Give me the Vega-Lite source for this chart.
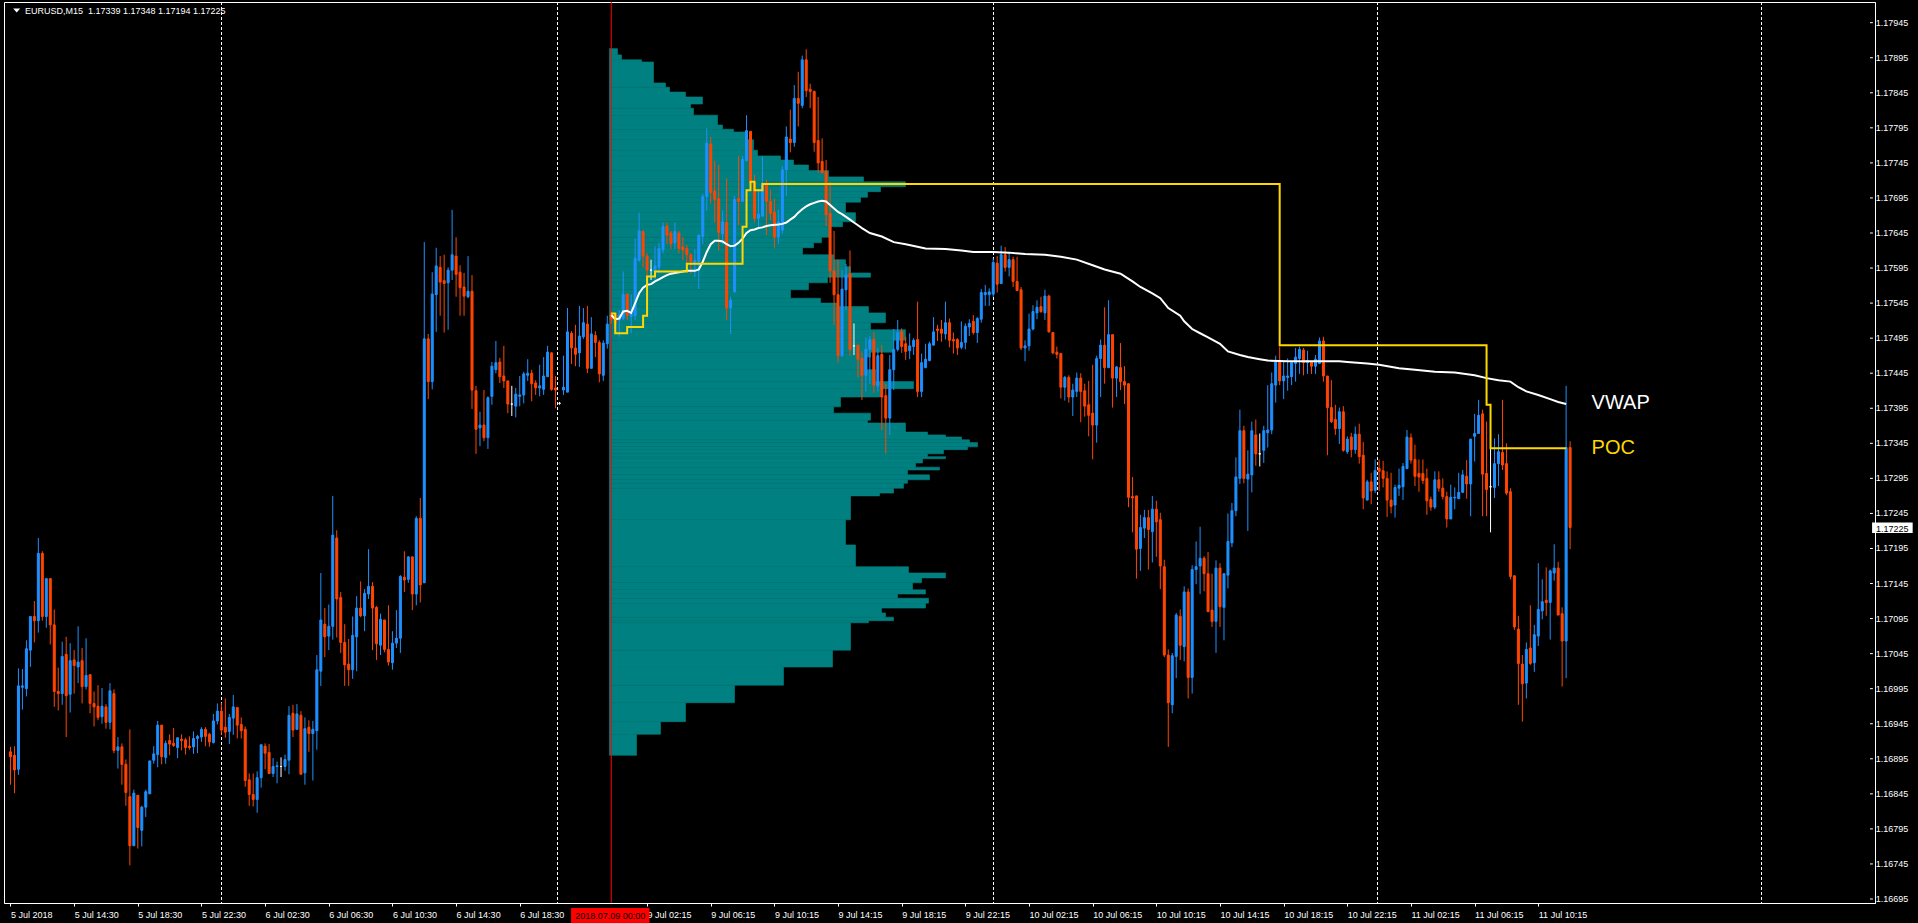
{
"$schema":"https://vega.github.io/schema/vega-lite/v6.json",
"width":1871,"height":901,
"autosize":{"type":"none"},
"padding":{"left":4,"top":2,"right":43,"bottom":20},
"background":"#000000",
"config":{"view":{"stroke":"#FFFFFF","strokeWidth":1},"font":"Liberation Sans",
 "axis":{"domainColor":"#FFFFFF","tickColor":"#FFFFFF","labelColor":"#FFFFFF","labelFont":"Liberation Sans","labelFontSize":9,"grid":false,"labelOverlap":false,"labelFlush":false,"labelBound":false,"tickSize":3}},
"datasets":{
"bars":[
{"k":0,"o":1.16905,"h":1.16912,"l":1.16858,"c":1.16898},
{"k":1,"o":1.16900,"h":1.16913,"l":1.16846,"c":1.16879},
{"k":2,"o":1.16880,"h":1.17024,"l":1.16872,"c":1.16999},
{"k":3,"o":1.16997,"h":1.17023,"l":1.16965,"c":1.16999},
{"k":4,"o":1.16995,"h":1.17064,"l":1.16984,"c":1.17052},
{"k":5,"o":1.17050,"h":1.17098,"l":1.17026,"c":1.17098},
{"k":6,"o":1.17098,"h":1.17120,"l":1.17061,"c":1.17092},
{"k":7,"o":1.17092,"h":1.17210,"l":1.17075,"c":1.17188},
{"k":8,"o":1.17188,"h":1.17191,"l":1.17092,"c":1.17098},
{"k":9,"o":1.17098,"h":1.17152,"l":1.17082,"c":1.17152},
{"k":10,"o":1.17152,"h":1.17152,"l":1.17058,"c":1.17086},
{"k":11,"o":1.17086,"h":1.17108,"l":1.16969,"c":1.16991},
{"k":12,"o":1.16991,"h":1.17025,"l":1.16964,"c":1.16988},
{"k":13,"o":1.16988,"h":1.17062,"l":1.16972,"c":1.17041},
{"k":14,"o":1.17044,"h":1.17069,"l":1.16926,"c":1.16985},
{"k":15,"o":1.16987,"h":1.17060,"l":1.16961,"c":1.17035},
{"k":16,"o":1.17036,"h":1.17050,"l":1.16988,"c":1.17028},
{"k":17,"o":1.17026,"h":1.17084,"l":1.17003,"c":1.17033},
{"k":18,"o":1.17035,"h":1.17053,"l":1.16974,"c":1.16998},
{"k":19,"o":1.16998,"h":1.17067,"l":1.16994,"c":1.17014},
{"k":20,"o":1.17015,"h":1.17015,"l":1.16960,"c":1.16974},
{"k":21,"o":1.16974,"h":1.16991,"l":1.16941,"c":1.16969},
{"k":22,"o":1.16970,"h":1.17000,"l":1.16950,"c":1.16954},
{"k":23,"o":1.16955,"h":1.16996,"l":1.16945,"c":1.16970},
{"k":24,"o":1.16969,"h":1.16973,"l":1.16938,"c":1.16947},
{"k":25,"o":1.16947,"h":1.17003,"l":1.16937,"c":1.16992},
{"k":26,"o":1.16988,"h":1.16994,"l":1.16903,"c":1.16907},
{"k":27,"o":1.16907,"h":1.16926,"l":1.16881,"c":1.16912},
{"k":28,"o":1.16912,"h":1.16917,"l":1.16858,"c":1.16887},
{"k":29,"o":1.16887,"h":1.16894,"l":1.16828,"c":1.16847},
{"k":30,"o":1.16841,"h":1.16937,"l":1.16743,"c":1.16771},
{"k":31,"o":1.16771,"h":1.16851,"l":1.16771,"c":1.16846},
{"k":32,"o":1.16843,"h":1.16843,"l":1.16767,"c":1.16797},
{"k":33,"o":1.16793,"h":1.16828,"l":1.16770,"c":1.16826},
{"k":34,"o":1.16826,"h":1.16851,"l":1.16812,"c":1.16848},
{"k":35,"o":1.16845,"h":1.16892,"l":1.16845,"c":1.16892},
{"k":36,"o":1.16893,"h":1.16913,"l":1.16888,"c":1.16902},
{"k":37,"o":1.16901,"h":1.16949,"l":1.16883,"c":1.16943},
{"k":38,"o":1.16943,"h":1.16943,"l":1.16887,"c":1.16898},
{"k":39,"o":1.16897,"h":1.16921,"l":1.16888,"c":1.16917},
{"k":40,"o":1.16921,"h":1.16930,"l":1.16900,"c":1.16916},
{"k":41,"o":1.16917,"h":1.16939,"l":1.16912,"c":1.16914},
{"k":42,"o":1.16911,"h":1.16925,"l":1.16896,"c":1.16925},
{"k":43,"o":1.16923,"h":1.16930,"l":1.16907,"c":1.16921},
{"k":44,"o":1.16922,"h":1.16925,"l":1.16901,"c":1.16911},
{"k":45,"o":1.16913,"h":1.16927,"l":1.16908,"c":1.16911},
{"k":46,"o":1.16912,"h":1.16934,"l":1.16902,"c":1.16924},
{"k":47,"o":1.16924,"h":1.16929,"l":1.16903,"c":1.16927},
{"k":48,"o":1.16926,"h":1.16940,"l":1.16919,"c":1.16937},
{"k":49,"o":1.16937,"h":1.16940,"l":1.16913,"c":1.16927},
{"k":50,"o":1.16930,"h":1.16932,"l":1.16912,"c":1.16919},
{"k":51,"o":1.16918,"h":1.16959,"l":1.16917,"c":1.16949},
{"k":52,"o":1.16949,"h":1.16974,"l":1.16944,"c":1.16963},
{"k":53,"o":1.16963,"h":1.16975,"l":1.16929,"c":1.16936},
{"k":54,"o":1.16940,"h":1.16981,"l":1.16925,"c":1.16933},
{"k":55,"o":1.16934,"h":1.16959,"l":1.16916,"c":1.16954},
{"k":56,"o":1.16953,"h":1.16986,"l":1.16929,"c":1.16969},
{"k":57,"o":1.16968,"h":1.16969,"l":1.16924,"c":1.16943},
{"k":58,"o":1.16944,"h":1.16954,"l":1.16924,"c":1.16935},
{"k":59,"o":1.16937,"h":1.16941,"l":1.16855,"c":1.16864},
{"k":60,"o":1.16865,"h":1.16874,"l":1.16828,"c":1.16844},
{"k":61,"o":1.16844,"h":1.16874,"l":1.16827,"c":1.16837},
{"k":62,"o":1.16837,"h":1.16877,"l":1.16818,"c":1.16868},
{"k":63,"o":1.16868,"h":1.16915,"l":1.16854,"c":1.16915},
{"k":64,"o":1.16913,"h":1.16917,"l":1.16880,"c":1.16903},
{"k":65,"o":1.16904,"h":1.16916,"l":1.16873,"c":1.16874},
{"k":66,"o":1.16874,"h":1.16896,"l":1.16869,"c":1.16884},
{"k":67,"o":1.16884,"h":1.16891,"l":1.16860,"c":1.16885},
{"k":68,"o":1.16884,"h":1.16897,"l":1.16869,"c":1.16884},
{"k":69,"o":1.16884,"h":1.16901,"l":1.16878,"c":1.16894},
{"k":70,"o":1.16893,"h":1.16970,"l":1.16873,"c":1.16957},
{"k":71,"o":1.16960,"h":1.16972,"l":1.16926,"c":1.16936},
{"k":72,"o":1.16937,"h":1.16973,"l":1.16936,"c":1.16959},
{"k":73,"o":1.16957,"h":1.16963,"l":1.16873,"c":1.16873},
{"k":74,"o":1.16875,"h":1.16954,"l":1.16858,"c":1.16938},
{"k":75,"o":1.16940,"h":1.16950,"l":1.16905,"c":1.16931},
{"k":76,"o":1.16931,"h":1.16949,"l":1.16864,"c":1.16937},
{"k":77,"o":1.16935,"h":1.17043,"l":1.16908,"c":1.17022},
{"k":78,"o":1.17020,"h":1.17160,"l":1.16999,"c":1.17093},
{"k":79,"o":1.17087,"h":1.17110,"l":1.17040,"c":1.17069},
{"k":80,"o":1.17070,"h":1.17115,"l":1.17050,"c":1.17084},
{"k":81,"o":1.17084,"h":1.17270,"l":1.17065,"c":1.17214},
{"k":82,"o":1.17210,"h":1.17221,"l":1.17068,"c":1.17123},
{"k":83,"o":1.17125,"h":1.17133,"l":1.17046,"c":1.17061},
{"k":84,"o":1.17061,"h":1.17087,"l":1.16999,"c":1.17029},
{"k":85,"o":1.17030,"h":1.17066,"l":1.16999,"c":1.17022},
{"k":86,"o":1.17022,"h":1.17098,"l":1.17009,"c":1.17071},
{"k":87,"o":1.17069,"h":1.17127,"l":1.17020,"c":1.17110},
{"k":88,"o":1.17110,"h":1.17148,"l":1.17097,"c":1.17099},
{"k":89,"o":1.17099,"h":1.17137,"l":1.17077,"c":1.17131},
{"k":90,"o":1.17130,"h":1.17194,"l":1.17123,"c":1.17141},
{"k":91,"o":1.17141,"h":1.17147,"l":1.17050,"c":1.17110},
{"k":92,"o":1.17111,"h":1.17113,"l":1.17036,"c":1.17059},
{"k":93,"o":1.17057,"h":1.17102,"l":1.17043,"c":1.17094},
{"k":94,"o":1.17093,"h":1.17093,"l":1.17047,"c":1.17051},
{"k":95,"o":1.17051,"h":1.17114,"l":1.17028,"c":1.17033},
{"k":96,"o":1.17032,"h":1.17077,"l":1.17022,"c":1.17060},
{"k":97,"o":1.17060,"h":1.17107,"l":1.17053,"c":1.17067},
{"k":98,"o":1.17067,"h":1.17157,"l":1.17046,"c":1.17155},
{"k":99,"o":1.17154,"h":1.17191,"l":1.17133,"c":1.17150},
{"k":100,"o":1.17151,"h":1.17184,"l":1.17146,"c":1.17183},
{"k":101,"o":1.17183,"h":1.17183,"l":1.17107,"c":1.17130},
{"k":102,"o":1.17130,"h":1.17241,"l":1.17114,"c":1.17238},
{"k":103,"o":1.17238,"h":1.17267,"l":1.17118,"c":1.17143},
{"k":104,"o":1.17146,"h":1.17632,"l":1.17146,"c":1.17494},
{"k":105,"o":1.17494,"h":1.17501,"l":1.17408,"c":1.17433},
{"k":106,"o":1.17433,"h":1.17589,"l":1.17422,"c":1.17558},
{"k":107,"o":1.17557,"h":1.17624,"l":1.17504,"c":1.17598},
{"k":108,"o":1.17596,"h":1.17612,"l":1.17527,"c":1.17575},
{"k":109,"o":1.17577,"h":1.17614,"l":1.17503,"c":1.17573},
{"k":110,"o":1.17574,"h":1.17596,"l":1.17507,"c":1.17592},
{"k":111,"o":1.17592,"h":1.17678,"l":1.17578,"c":1.17614},
{"k":112,"o":1.17612,"h":1.17639,"l":1.17554,"c":1.17586},
{"k":113,"o":1.17589,"h":1.17599,"l":1.17527,"c":1.17567},
{"k":114,"o":1.17568,"h":1.17588,"l":1.17527,"c":1.17555},
{"k":115,"o":1.17554,"h":1.17612,"l":1.17552,"c":1.17562},
{"k":116,"o":1.17562,"h":1.17585,"l":1.17394,"c":1.17421},
{"k":117,"o":1.17420,"h":1.17427,"l":1.17330,"c":1.17365},
{"k":118,"o":1.17367,"h":1.17390,"l":1.17341,"c":1.17371},
{"k":119,"o":1.17371,"h":1.17421,"l":1.17348,"c":1.17353},
{"k":120,"o":1.17353,"h":1.17412,"l":1.17337,"c":1.17410},
{"k":121,"o":1.17412,"h":1.17461,"l":1.17400,"c":1.17455},
{"k":122,"o":1.17450,"h":1.17491,"l":1.17445,"c":1.17460},
{"k":123,"o":1.17461,"h":1.17467,"l":1.17431,"c":1.17440},
{"k":124,"o":1.17441,"h":1.17484,"l":1.17424,"c":1.17434},
{"k":125,"o":1.17434,"h":1.17434,"l":1.17388,"c":1.17401},
{"k":126,"o":1.17401,"h":1.17427,"l":1.17384,"c":1.17401},
{"k":127,"o":1.17398,"h":1.17424,"l":1.17382,"c":1.17415},
{"k":128,"o":1.17412,"h":1.17441,"l":1.17398,"c":1.17414},
{"k":129,"o":1.17414,"h":1.17447,"l":1.17402,"c":1.17444},
{"k":130,"o":1.17442,"h":1.17465,"l":1.17434,"c":1.17445},
{"k":131,"o":1.17445,"h":1.17450,"l":1.17405,"c":1.17430},
{"k":132,"o":1.17431,"h":1.17435,"l":1.17414,"c":1.17424},
{"k":133,"o":1.17424,"h":1.17457,"l":1.17412,"c":1.17427},
{"k":134,"o":1.17422,"h":1.17468,"l":1.17414,"c":1.17441},
{"k":135,"o":1.17440,"h":1.17484,"l":1.17440,"c":1.17475},
{"k":136,"o":1.17474,"h":1.17475,"l":1.17420,"c":1.17422},
{"k":137,"o":1.17424,"h":1.17441,"l":1.17395,"c":1.17421},
{"k":138,"o":1.17402,"h":1.17404,"l":1.17400,"c":1.17402},
{"k":139,"o":1.17421,"h":1.17470,"l":1.17414,"c":1.17425},
{"k":140,"o":1.17418,"h":1.17538,"l":1.17418,"c":1.17504},
{"k":141,"o":1.17502,"h":1.17505,"l":1.17458,"c":1.17481},
{"k":142,"o":1.17481,"h":1.17514,"l":1.17455,"c":1.17472},
{"k":143,"o":1.17474,"h":1.17541,"l":1.17454,"c":1.17498},
{"k":144,"o":1.17497,"h":1.17538,"l":1.17494,"c":1.17517},
{"k":145,"o":1.17515,"h":1.17541,"l":1.17445,"c":1.17452},
{"k":146,"o":1.17452,"h":1.17525,"l":1.17452,"c":1.17501},
{"k":147,"o":1.17499,"h":1.17505,"l":1.17468,"c":1.17489},
{"k":148,"o":1.17489,"h":1.17492,"l":1.17432,"c":1.17444},
{"k":149,"o":1.17442,"h":1.17492,"l":1.17434,"c":1.17488},
{"k":150,"o":1.17487,"h":1.17527,"l":1.17480,"c":1.17515},
{"k":151,"o":1.17530,"h":1.17533,"l":1.17516,"c":1.17522},
{"k":152,"o":1.17530,"h":1.17531,"l":1.17512,"c":1.17516},
{"k":153,"o":1.17521,"h":1.17535,"l":1.17497,"c":1.17528},
{"k":154,"o":1.17523,"h":1.17590,"l":1.17521,"c":1.17557},
{"k":155,"o":1.17558,"h":1.17558,"l":1.17521,"c":1.17527},
{"k":156,"o":1.17526,"h":1.17557,"l":1.17502,"c":1.17531},
{"k":157,"o":1.17527,"h":1.17637,"l":1.17521,"c":1.17609},
{"k":158,"o":1.17606,"h":1.17674,"l":1.17604,"c":1.17648},
{"k":159,"o":1.17647,"h":1.17649,"l":1.17596,"c":1.17612},
{"k":160,"o":1.17612,"h":1.17616,"l":1.17583,"c":1.17592},
{"k":161,"o":1.17592,"h":1.17607,"l":1.17578,"c":1.17592},
{"k":162,"o":1.17590,"h":1.17626,"l":1.17578,"c":1.17598},
{"k":163,"o":1.17596,"h":1.17631,"l":1.17587,"c":1.17623},
{"k":164,"o":1.17621,"h":1.17660,"l":1.17616,"c":1.17654},
{"k":165,"o":1.17655,"h":1.17660,"l":1.17629,"c":1.17642},
{"k":166,"o":1.17645,"h":1.17648,"l":1.17622,"c":1.17630},
{"k":167,"o":1.17631,"h":1.17660,"l":1.17622,"c":1.17647},
{"k":168,"o":1.17645,"h":1.17648,"l":1.17616,"c":1.17623},
{"k":169,"o":1.17625,"h":1.17639,"l":1.17606,"c":1.17621},
{"k":170,"o":1.17623,"h":1.17628,"l":1.17595,"c":1.17614},
{"k":171,"o":1.17614,"h":1.17616,"l":1.17587,"c":1.17604},
{"k":172,"o":1.17602,"h":1.17622,"l":1.17582,"c":1.17606},
{"k":173,"o":1.17604,"h":1.17642,"l":1.17565,"c":1.17642},
{"k":174,"o":1.17640,"h":1.17701,"l":1.17629,"c":1.17697},
{"k":175,"o":1.17697,"h":1.17794,"l":1.17677,"c":1.17773},
{"k":176,"o":1.17772,"h":1.17782,"l":1.17687,"c":1.17703},
{"k":177,"o":1.17705,"h":1.17748,"l":1.17660,"c":1.17693},
{"k":178,"o":1.17694,"h":1.17742,"l":1.17620,"c":1.17646},
{"k":179,"o":1.17644,"h":1.17677,"l":1.17629,"c":1.17661},
{"k":180,"o":1.17660,"h":1.17723,"l":1.17521,"c":1.17538},
{"k":181,"o":1.17538,"h":1.17554,"l":1.17501,"c":1.17549},
{"k":182,"o":1.17561,"h":1.17698,"l":1.17560,"c":1.17693},
{"k":183,"o":1.17694,"h":1.17755,"l":1.17656,"c":1.17690},
{"k":184,"o":1.17690,"h":1.17755,"l":1.17690,"c":1.17750},
{"k":185,"o":1.17748,"h":1.17813,"l":1.17748,"c":1.17791},
{"k":186,"o":1.17790,"h":1.17790,"l":1.17707,"c":1.17717},
{"k":187,"o":1.17717,"h":1.17728,"l":1.17660,"c":1.17666},
{"k":188,"o":1.17666,"h":1.17707,"l":1.17654,"c":1.17672},
{"k":189,"o":1.17669,"h":1.17754,"l":1.17669,"c":1.17714},
{"k":190,"o":1.17715,"h":1.17721,"l":1.17642,"c":1.17690},
{"k":191,"o":1.17690,"h":1.17707,"l":1.17663,"c":1.17673},
{"k":192,"o":1.17675,"h":1.17694,"l":1.17623,"c":1.17639},
{"k":193,"o":1.17639,"h":1.17678,"l":1.17630,"c":1.17661},
{"k":194,"o":1.17649,"h":1.17740,"l":1.17644,"c":1.17735},
{"k":195,"o":1.17735,"h":1.17797,"l":1.17698,"c":1.17782},
{"k":196,"o":1.17779,"h":1.17821,"l":1.17760,"c":1.17774},
{"k":197,"o":1.17774,"h":1.17856,"l":1.17768,"c":1.17837},
{"k":198,"o":1.17837,"h":1.17875,"l":1.17797,"c":1.17830},
{"k":199,"o":1.17827,"h":1.17898,"l":1.17823,"c":1.17892},
{"k":200,"o":1.17892,"h":1.17907,"l":1.17839,"c":1.17848},
{"k":201,"o":1.17850,"h":1.17858,"l":1.17823,"c":1.17847},
{"k":202,"o":1.17847,"h":1.17848,"l":1.17761,"c":1.17774},
{"k":203,"o":1.17777,"h":1.17839,"l":1.17731,"c":1.17745},
{"k":204,"o":1.17747,"h":1.17780,"l":1.17730,"c":1.17731},
{"k":205,"o":1.17733,"h":1.17749,"l":1.17655,"c":1.17671},
{"k":206,"o":1.17673,"h":1.17718,"l":1.17574,"c":1.17591},
{"k":207,"o":1.17591,"h":1.17648,"l":1.17514,"c":1.17557},
{"k":208,"o":1.17557,"h":1.17607,"l":1.17460,"c":1.17470},
{"k":209,"o":1.17470,"h":1.17592,"l":1.17468,"c":1.17565},
{"k":210,"o":1.17564,"h":1.17601,"l":1.17535,"c":1.17585},
{"k":211,"o":1.17587,"h":1.17620,"l":1.17470,"c":1.17479},
{"k":212,"o":1.17484,"h":1.17516,"l":1.17471,"c":1.17484},
{"k":213,"o":1.17485,"h":1.17485,"l":1.17439,"c":1.17465},
{"k":214,"o":1.17466,"h":1.17476,"l":1.17407,"c":1.17442},
{"k":215,"o":1.17442,"h":1.17496,"l":1.17419,"c":1.17479},
{"k":216,"o":1.17479,"h":1.17498,"l":1.17430,"c":1.17493},
{"k":217,"o":1.17493,"h":1.17504,"l":1.17417,"c":1.17428},
{"k":218,"o":1.17427,"h":1.17481,"l":1.17419,"c":1.17470},
{"k":219,"o":1.17472,"h":1.17485,"l":1.17364,"c":1.17411},
{"k":220,"o":1.17413,"h":1.17430,"l":1.17330,"c":1.17381},
{"k":221,"o":1.17381,"h":1.17471,"l":1.17357,"c":1.17450},
{"k":222,"o":1.17450,"h":1.17508,"l":1.17421,"c":1.17479},
{"k":223,"o":1.17479,"h":1.17521,"l":1.17476,"c":1.17503},
{"k":224,"o":1.17504,"h":1.17509,"l":1.17474,"c":1.17483},
{"k":225,"o":1.17487,"h":1.17497,"l":1.17464,"c":1.17476},
{"k":226,"o":1.17477,"h":1.17502,"l":1.17465,"c":1.17484},
{"k":227,"o":1.17483,"h":1.17495,"l":1.17471,"c":1.17492},
{"k":228,"o":1.17493,"h":1.17547,"l":1.17411,"c":1.17419},
{"k":229,"o":1.17419,"h":1.17473,"l":1.17411,"c":1.17460},
{"k":230,"o":1.17453,"h":1.17487,"l":1.17452,"c":1.17465},
{"k":231,"o":1.17463,"h":1.17490,"l":1.17462,"c":1.17487},
{"k":232,"o":1.17485,"h":1.17525,"l":1.17485,"c":1.17504},
{"k":233,"o":1.17508,"h":1.17514,"l":1.17491,"c":1.17506},
{"k":234,"o":1.17508,"h":1.17521,"l":1.17490,"c":1.17502},
{"k":235,"o":1.17501,"h":1.17547,"l":1.17493,"c":1.17517},
{"k":236,"o":1.17517,"h":1.17523,"l":1.17482,"c":1.17492},
{"k":237,"o":1.17493,"h":1.17503,"l":1.17473,"c":1.17491},
{"k":238,"o":1.17493,"h":1.17495,"l":1.17471,"c":1.17481},
{"k":239,"o":1.17482,"h":1.17519,"l":1.17479,"c":1.17489},
{"k":240,"o":1.17489,"h":1.17516,"l":1.17479,"c":1.17512},
{"k":241,"o":1.17511,"h":1.17522,"l":1.17498,"c":1.17516},
{"k":242,"o":1.17519,"h":1.17528,"l":1.17500,"c":1.17503},
{"k":243,"o":1.17503,"h":1.17525,"l":1.17488,"c":1.17523},
{"k":244,"o":1.17522,"h":1.17565,"l":1.17517,"c":1.17560},
{"k":245,"o":1.17557,"h":1.17571,"l":1.17541,"c":1.17560},
{"k":246,"o":1.17557,"h":1.17566,"l":1.17541,"c":1.17561},
{"k":247,"o":1.17558,"h":1.17609,"l":1.17554,"c":1.17603},
{"k":248,"o":1.17602,"h":1.17612,"l":1.17560,"c":1.17572},
{"k":249,"o":1.17573,"h":1.17627,"l":1.17572,"c":1.17614},
{"k":250,"o":1.17614,"h":1.17625,"l":1.17590,"c":1.17596},
{"k":251,"o":1.17596,"h":1.17618,"l":1.17583,"c":1.17607},
{"k":252,"o":1.17607,"h":1.17611,"l":1.17568,"c":1.17576},
{"k":253,"o":1.17576,"h":1.17611,"l":1.17563,"c":1.17563},
{"k":254,"o":1.17564,"h":1.17568,"l":1.17478,"c":1.17481},
{"k":255,"o":1.17481,"h":1.17492,"l":1.17462,"c":1.17484},
{"k":256,"o":1.17484,"h":1.17530,"l":1.17477,"c":1.17508},
{"k":257,"o":1.17508,"h":1.17542,"l":1.17506,"c":1.17533},
{"k":258,"o":1.17531,"h":1.17549,"l":1.17522,"c":1.17539},
{"k":259,"o":1.17540,"h":1.17554,"l":1.17531,"c":1.17533},
{"k":260,"o":1.17531,"h":1.17564,"l":1.17521,"c":1.17555},
{"k":261,"o":1.17555,"h":1.17557,"l":1.17503,"c":1.17504},
{"k":262,"o":1.17503,"h":1.17504,"l":1.17472,"c":1.17474},
{"k":263,"o":1.17475,"h":1.17483,"l":1.17466,"c":1.17472},
{"k":264,"o":1.17473,"h":1.17473,"l":1.17409,"c":1.17425},
{"k":265,"o":1.17425,"h":1.17441,"l":1.17406,"c":1.17439},
{"k":266,"o":1.17439,"h":1.17442,"l":1.17403,"c":1.17411},
{"k":267,"o":1.17411,"h":1.17430,"l":1.17384,"c":1.17421},
{"k":268,"o":1.17419,"h":1.17446,"l":1.17411,"c":1.17438},
{"k":269,"o":1.17438,"h":1.17445,"l":1.17375,"c":1.17419},
{"k":270,"o":1.17420,"h":1.17430,"l":1.17383,"c":1.17398},
{"k":271,"o":1.17400,"h":1.17434,"l":1.17355,"c":1.17385},
{"k":272,"o":1.17388,"h":1.17457,"l":1.17322,"c":1.17371},
{"k":273,"o":1.17371,"h":1.17470,"l":1.17346,"c":1.17466},
{"k":274,"o":1.17466,"h":1.17493,"l":1.17411,"c":1.17485},
{"k":275,"o":1.17485,"h":1.17539,"l":1.17430,"c":1.17453},
{"k":276,"o":1.17453,"h":1.17549,"l":1.17452,"c":1.17500},
{"k":277,"o":1.17500,"h":1.17500,"l":1.17396,"c":1.17438},
{"k":278,"o":1.17438,"h":1.17455,"l":1.17411,"c":1.17454},
{"k":279,"o":1.17453,"h":1.17488,"l":1.17421,"c":1.17433},
{"k":280,"o":1.17433,"h":1.17455,"l":1.17401,"c":1.17428},
{"k":281,"o":1.17430,"h":1.17430,"l":1.17254,"c":1.17268},
{"k":282,"o":1.17269,"h":1.17297,"l":1.17218,"c":1.17267},
{"k":283,"o":1.17270,"h":1.17270,"l":1.17152,"c":1.17194},
{"k":284,"o":1.17195,"h":1.17243,"l":1.17163,"c":1.17225},
{"k":285,"o":1.17224,"h":1.17250,"l":1.17210,"c":1.17239},
{"k":286,"o":1.17239,"h":1.17250,"l":1.17165,"c":1.17222},
{"k":287,"o":1.17219,"h":1.17270,"l":1.17175,"c":1.17251},
{"k":288,"o":1.17251,"h":1.17263,"l":1.17183,"c":1.17233},
{"k":289,"o":1.17236,"h":1.17246,"l":1.17137,"c":1.17170},
{"k":290,"o":1.17169,"h":1.17179,"l":1.17040,"c":1.17043},
{"k":291,"o":1.17043,"h":1.17051,"l":1.16912,"c":1.16975},
{"k":292,"o":1.16972,"h":1.17046,"l":1.16960,"c":1.17042},
{"k":293,"o":1.17041,"h":1.17103,"l":1.17010,"c":1.17100},
{"k":294,"o":1.17098,"h":1.17108,"l":1.17036,"c":1.17057},
{"k":295,"o":1.17055,"h":1.17141,"l":1.17034,"c":1.17133},
{"k":296,"o":1.17133,"h":1.17138,"l":1.16981,"c":1.17011},
{"k":297,"o":1.17011,"h":1.17171,"l":1.16988,"c":1.17165},
{"k":298,"o":1.17165,"h":1.17205,"l":1.17144,"c":1.17169},
{"k":299,"o":1.17170,"h":1.17226,"l":1.17130,"c":1.17181},
{"k":300,"o":1.17181,"h":1.17184,"l":1.17134,"c":1.17159},
{"k":301,"o":1.17159,"h":1.17190,"l":1.17104,"c":1.17105},
{"k":302,"o":1.17107,"h":1.17159,"l":1.17083,"c":1.17091},
{"k":303,"o":1.17091,"h":1.17178,"l":1.17046,"c":1.17167},
{"k":304,"o":1.17167,"h":1.17174,"l":1.17083,"c":1.17112},
{"k":305,"o":1.17111,"h":1.17160,"l":1.17064,"c":1.17159},
{"k":306,"o":1.17157,"h":1.17245,"l":1.17138,"c":1.17205},
{"k":307,"o":1.17203,"h":1.17260,"l":1.17197,"c":1.17249},
{"k":308,"o":1.17249,"h":1.17325,"l":1.17241,"c":1.17297},
{"k":309,"o":1.17295,"h":1.17393,"l":1.17287,"c":1.17363},
{"k":310,"o":1.17363,"h":1.17370,"l":1.17288,"c":1.17295},
{"k":311,"o":1.17294,"h":1.17335,"l":1.17220,"c":1.17301},
{"k":312,"o":1.17300,"h":1.17376,"l":1.17275,"c":1.17363},
{"k":313,"o":1.17357,"h":1.17379,"l":1.17313,"c":1.17330},
{"k":314,"o":1.17330,"h":1.17359,"l":1.17312,"c":1.17330},
{"k":315,"o":1.17335,"h":1.17370,"l":1.17317,"c":1.17363},
{"k":316,"o":1.17360,"h":1.17428,"l":1.17339,"c":1.17364},
{"k":317,"o":1.17364,"h":1.17446,"l":1.17358,"c":1.17430},
{"k":318,"o":1.17428,"h":1.17470,"l":1.17403,"c":1.17461},
{"k":319,"o":1.17461,"h":1.17483,"l":1.17428,"c":1.17434},
{"k":320,"o":1.17434,"h":1.17461,"l":1.17408,"c":1.17441},
{"k":321,"o":1.17439,"h":1.17466,"l":1.17420,"c":1.17441},
{"k":322,"o":1.17440,"h":1.17461,"l":1.17428,"c":1.17460},
{"k":323,"o":1.17459,"h":1.17481,"l":1.17433,"c":1.17468},
{"k":324,"o":1.17466,"h":1.17483,"l":1.17444,"c":1.17479},
{"k":325,"o":1.17478,"h":1.17481,"l":1.17442,"c":1.17460},
{"k":326,"o":1.17460,"h":1.17477,"l":1.17444,"c":1.17463},
{"k":327,"o":1.17461,"h":1.17461,"l":1.17444,"c":1.17455},
{"k":328,"o":1.17455,"h":1.17471,"l":1.17444,"c":1.17465},
{"k":329,"o":1.17459,"h":1.17496,"l":1.17458,"c":1.17491},
{"k":330,"o":1.17491,"h":1.17497,"l":1.17433,"c":1.17441},
{"k":331,"o":1.17441,"h":1.17441,"l":1.17328,"c":1.17396},
{"k":332,"o":1.17396,"h":1.17435,"l":1.17374,"c":1.17376},
{"k":333,"o":1.17379,"h":1.17400,"l":1.17357,"c":1.17366},
{"k":334,"o":1.17366,"h":1.17396,"l":1.17344,"c":1.17390},
{"k":335,"o":1.17390,"h":1.17398,"l":1.17333,"c":1.17335},
{"k":336,"o":1.17333,"h":1.17355,"l":1.17330,"c":1.17351},
{"k":337,"o":1.17354,"h":1.17360,"l":1.17325,"c":1.17336},
{"k":338,"o":1.17336,"h":1.17369,"l":1.17330,"c":1.17358},
{"k":339,"o":1.17358,"h":1.17373,"l":1.17316,"c":1.17326},
{"k":340,"o":1.17328,"h":1.17347,"l":1.17251,"c":1.17267},
{"k":341,"o":1.17264,"h":1.17293,"l":1.17264,"c":1.17290},
{"k":342,"o":1.17290,"h":1.17303,"l":1.17258,"c":1.17277},
{"k":343,"o":1.17278,"h":1.17322,"l":1.17274,"c":1.17306},
{"k":344,"o":1.17309,"h":1.17322,"l":1.17277,"c":1.17305},
{"k":345,"o":1.17306,"h":1.17320,"l":1.17282,"c":1.17295},
{"k":346,"o":1.17295,"h":1.17305,"l":1.17240,"c":1.17264},
{"k":347,"o":1.17264,"h":1.17303,"l":1.17245,"c":1.17255},
{"k":348,"o":1.17257,"h":1.17286,"l":1.17239,"c":1.17282},
{"k":349,"o":1.17281,"h":1.17309,"l":1.17270,"c":1.17285},
{"k":350,"o":1.17283,"h":1.17317,"l":1.17264,"c":1.17312},
{"k":351,"o":1.17309,"h":1.17364,"l":1.17308,"c":1.17354},
{"k":352,"o":1.17353,"h":1.17359,"l":1.17316,"c":1.17321},
{"k":353,"o":1.17322,"h":1.17343,"l":1.17284,"c":1.17298},
{"k":354,"o":1.17302,"h":1.17322,"l":1.17276,"c":1.17297},
{"k":355,"o":1.17302,"h":1.17322,"l":1.17287,"c":1.17292},
{"k":356,"o":1.17295,"h":1.17309,"l":1.17243,"c":1.17263},
{"k":357,"o":1.17265,"h":1.17269,"l":1.17249,"c":1.17254},
{"k":358,"o":1.17254,"h":1.17305,"l":1.17251,"c":1.17293},
{"k":359,"o":1.17293,"h":1.17305,"l":1.17276,"c":1.17281},
{"k":360,"o":1.17281,"h":1.17295,"l":1.17265,"c":1.17269},
{"k":361,"o":1.17269,"h":1.17276,"l":1.17225,"c":1.17237},
{"k":362,"o":1.17237,"h":1.17286,"l":1.17237,"c":1.17268},
{"k":363,"o":1.17267,"h":1.17282,"l":1.17251,"c":1.17268},
{"k":364,"o":1.17266,"h":1.17303,"l":1.17266,"c":1.17275},
{"k":365,"o":1.17275,"h":1.17307,"l":1.17275,"c":1.17300},
{"k":366,"o":1.17298,"h":1.17321,"l":1.17266,"c":1.17287},
{"k":367,"o":1.17287,"h":1.17351,"l":1.17241,"c":1.17351},
{"k":368,"o":1.17355,"h":1.17387,"l":1.17319,"c":1.17359},
{"k":369,"o":1.17359,"h":1.17407,"l":1.17359,"c":1.17385},
{"k":370,"o":1.17387,"h":1.17393,"l":1.17241,"c":1.17301},
{"k":371,"o":1.17302,"h":1.17376,"l":1.17241,"c":1.17279},
{"k":372,"o":1.17283,"h":1.17338,"l":1.17218,"c":1.17283},
{"k":373,"o":1.17282,"h":1.17352,"l":1.17267,"c":1.17316},
{"k":374,"o":1.17316,"h":1.17358,"l":1.17284,"c":1.17333},
{"k":375,"o":1.17332,"h":1.17407,"l":1.17307,"c":1.17314},
{"k":376,"o":1.17316,"h":1.17345,"l":1.17271,"c":1.17274},
{"k":377,"o":1.17276,"h":1.17281,"l":1.17151,"c":1.17155},
{"k":378,"o":1.17156,"h":1.17157,"l":1.17079,"c":1.17083},
{"k":379,"o":1.17080,"h":1.17099,"l":1.16972,"c":1.17031},
{"k":380,"o":1.17030,"h":1.17043,"l":1.16948,"c":1.17002},
{"k":381,"o":1.17003,"h":1.17061,"l":1.16981,"c":1.17051},
{"k":382,"o":1.17053,"h":1.17114,"l":1.17029,"c":1.17031},
{"k":383,"o":1.17032,"h":1.17086,"l":1.17019,"c":1.17072},
{"k":384,"o":1.17070,"h":1.17174,"l":1.17056,"c":1.17108},
{"k":385,"o":1.17106,"h":1.17151,"l":1.17094,"c":1.17119},
{"k":386,"o":1.17121,"h":1.17168,"l":1.17099,"c":1.17118},
{"k":387,"o":1.17118,"h":1.17165,"l":1.17065,"c":1.17163},
{"k":388,"o":1.17160,"h":1.17201,"l":1.17149,"c":1.17167},
{"k":389,"o":1.17167,"h":1.17176,"l":1.17100,"c":1.17100},
{"k":390,"o":1.17102,"h":1.17111,"l":1.16998,"c":1.17063},
{"k":391,"o":1.17063,"h":1.17427,"l":1.17010,"c":1.17339},
{"k":392,"o":1.17339,"h":1.17348,"l":1.17194,"c":1.17225}
],
"vwap":[
{"k":151,"v":1.17528},{"k":152,"v":1.17522},{"k":153,"v":1.17523},{"k":154,"v":1.17533},{"k":155,"v":1.17534},{"k":156,"v":1.17531},{"k":157,"v":1.17545},{"k":158,"v":1.17559},{"k":159,"v":1.17567},{"k":160,"v":1.17571},{"k":161,"v":1.17572},{"k":162,"v":1.17576},{"k":163,"v":1.17579},{"k":164,"v":1.17582},{"k":165,"v":1.17585},{"k":166,"v":1.17587},{"k":167,"v":1.17588},{"k":168,"v":1.17589},{"k":170,"v":1.17591},{"k":172,"v":1.17591},{"k":173,"v":1.17593},{"k":174,"v":1.17604},{"k":175,"v":1.17618},{"k":176,"v":1.17629},{"k":177,"v":1.17634},{"k":178,"v":1.17634},{"k":179,"v":1.17633},{"k":180,"v":1.17629},{"k":181,"v":1.17626},{"k":182,"v":1.17627},{"k":183,"v":1.17631},{"k":184,"v":1.17637},{"k":185,"v":1.17645},{"k":186,"v":1.17649},{"k":187,"v":1.17650},{"k":188,"v":1.17652},{"k":189,"v":1.17653},{"k":190,"v":1.17655},{"k":191,"v":1.17656},{"k":193,"v":1.17657},{"k":194,"v":1.17658},{"k":195,"v":1.17660},{"k":196,"v":1.17664},{"k":197,"v":1.17668},{"k":198,"v":1.17674},{"k":199,"v":1.17679},{"k":200,"v":1.17683},{"k":201,"v":1.17686},{"k":202,"v":1.17688},{"k":203,"v":1.17690},{"k":204,"v":1.17691},{"k":205,"v":1.17690},{"k":206,"v":1.17685},{"k":207,"v":1.17680},{"k":208,"v":1.17675},{"k":209,"v":1.17672},{"k":210,"v":1.17668},{"k":211,"v":1.17664},{"k":212,"v":1.17660},{"k":213,"v":1.17656},{"k":214,"v":1.17652},{"k":216,"v":1.17645},{"k":219,"v":1.17640},{"k":222,"v":1.17632},{"k":225,"v":1.17629},{"k":230,"v":1.17623},{"k":235,"v":1.17622},{"k":239,"v":1.17620},{"k":242,"v":1.17618},{"k":247,"v":1.17618},{"k":251,"v":1.17617},{"k":255,"v":1.17615},{"k":260,"v":1.17614},{"k":264,"v":1.17611},{"k":268,"v":1.17607},{"k":272,"v":1.17599},{"k":275,"v":1.17593},{"k":279,"v":1.17587},{"k":282,"v":1.17576},{"k":284,"v":1.17568},{"k":287,"v":1.17559},{"k":289,"v":1.17552},{"k":291,"v":1.17538},{"k":294,"v":1.17527},{"k":295,"v":1.17519},{"k":297,"v":1.17508},{"k":299,"v":1.17502},{"k":301,"v":1.17496},{"k":304,"v":1.17487},{"k":306,"v":1.17476},{"k":309,"v":1.17471},{"k":311,"v":1.17468},{"k":314,"v":1.17465},{"k":316,"v":1.17463},{"k":321,"v":1.17462},{"k":328,"v":1.17462},{"k":334,"v":1.17462},{"k":336,"v":1.17461},{"k":341,"v":1.17459},{"k":344,"v":1.17457},{"k":349,"v":1.17452},{"k":353,"v":1.17450},{"k":358,"v":1.17447},{"k":363,"v":1.17446},{"k":368,"v":1.17442},{"k":371,"v":1.17438},{"k":374,"v":1.17435},{"k":377,"v":1.17433},{"k":379,"v":1.17425},{"k":381,"v":1.17419},{"k":384,"v":1.17414},{"k":387,"v":1.17408},{"k":389,"v":1.17404},{"k":391,"v":1.17401}
],
"poc":[
{"k":151,"v":1.17530},{"k":152,"v":1.17502},{"k":155,"v":1.17511},{"k":159,"v":1.17527},{"k":160,"v":1.17583},{"k":162,"v":1.17590},{"k":170,"v":1.17601},{"k":184,"v":1.17654},{"k":185,"v":1.17706},{"k":186,"v":1.17718},{"k":187,"v":1.17706},{"k":189,"v":1.17715},{"k":319,"v":1.17485},{"k":371,"v":1.17400},{"k":372,"v":1.17338},{"k":391,"v":1.17338}
],
"profile":[
{"lo":1.17899,"hi":1.17908,"v":8},{"lo":1.17892,"hi":1.17899,"v":12},{"lo":1.17889,"hi":1.17892,"v":32},{"lo":1.17859,"hi":1.17889,"v":44},{"lo":1.17853,"hi":1.17859,"v":56},{"lo":1.17846,"hi":1.17853,"v":60},{"lo":1.17839,"hi":1.17846,"v":76},{"lo":1.17829,"hi":1.17839,"v":93},{"lo":1.17823,"hi":1.17829,"v":81},{"lo":1.17813,"hi":1.17823,"v":84},{"lo":1.17799,"hi":1.17813,"v":108},{"lo":1.17793,"hi":1.17799,"v":113},{"lo":1.17789,"hi":1.17793,"v":124},{"lo":1.17778,"hi":1.17789,"v":138},{"lo":1.17763,"hi":1.17778,"v":144},{"lo":1.17755,"hi":1.17763,"v":148},{"lo":1.17749,"hi":1.17755,"v":171},{"lo":1.17742,"hi":1.17749,"v":184},{"lo":1.17734,"hi":1.17742,"v":199},{"lo":1.17725,"hi":1.17734,"v":219},{"lo":1.17718,"hi":1.17725,"v":254},{"lo":1.17711,"hi":1.17718,"v":296},{"lo":1.17704,"hi":1.17711,"v":271},{"lo":1.17696,"hi":1.17704,"v":258},{"lo":1.17689,"hi":1.17696,"v":251},{"lo":1.17674,"hi":1.17689,"v":236},{"lo":1.17661,"hi":1.17674,"v":246},{"lo":1.17654,"hi":1.17661,"v":233},{"lo":1.17639,"hi":1.17654,"v":221},{"lo":1.17631,"hi":1.17639,"v":212},{"lo":1.17624,"hi":1.17631,"v":204},{"lo":1.17614,"hi":1.17624,"v":193},{"lo":1.17607,"hi":1.17614,"v":224},{"lo":1.17597,"hi":1.17607,"v":236},{"lo":1.17588,"hi":1.17597,"v":241},{"lo":1.17582,"hi":1.17588,"v":261},{"lo":1.17574,"hi":1.17582,"v":218},{"lo":1.17564,"hi":1.17574,"v":199},{"lo":1.17552,"hi":1.17564,"v":181},{"lo":1.17545,"hi":1.17552,"v":211},{"lo":1.17540,"hi":1.17545,"v":228},{"lo":1.17531,"hi":1.17540,"v":259},{"lo":1.17517,"hi":1.17531,"v":276},{"lo":1.17507,"hi":1.17517,"v":261},{"lo":1.17492,"hi":1.17507,"v":296},{"lo":1.17475,"hi":1.17492,"v":284},{"lo":1.17468,"hi":1.17475,"v":261},{"lo":1.17450,"hi":1.17468,"v":256},{"lo":1.17433,"hi":1.17450,"v":266},{"lo":1.17423,"hi":1.17433,"v":304},{"lo":1.17411,"hi":1.17423,"v":271},{"lo":1.17397,"hi":1.17411,"v":231},{"lo":1.17388,"hi":1.17397,"v":224},{"lo":1.17378,"hi":1.17388,"v":261},{"lo":1.17374,"hi":1.17378,"v":258},{"lo":1.17361,"hi":1.17374,"v":296},{"lo":1.17357,"hi":1.17361,"v":318},{"lo":1.17354,"hi":1.17357,"v":336},{"lo":1.17350,"hi":1.17354,"v":352},{"lo":1.17346,"hi":1.17350,"v":360},{"lo":1.17340,"hi":1.17346,"v":368},{"lo":1.17336,"hi":1.17340,"v":358},{"lo":1.17330,"hi":1.17336,"v":334},{"lo":1.17326,"hi":1.17330,"v":318},{"lo":1.17323,"hi":1.17326,"v":336},{"lo":1.17317,"hi":1.17323,"v":313},{"lo":1.17311,"hi":1.17317,"v":306},{"lo":1.17307,"hi":1.17311,"v":330},{"lo":1.17300,"hi":1.17307,"v":298},{"lo":1.17293,"hi":1.17300,"v":320},{"lo":1.17288,"hi":1.17293,"v":298},{"lo":1.17281,"hi":1.17288,"v":294},{"lo":1.17274,"hi":1.17281,"v":284},{"lo":1.17270,"hi":1.17274,"v":270},{"lo":1.17236,"hi":1.17270,"v":241},{"lo":1.17200,"hi":1.17236,"v":236},{"lo":1.17169,"hi":1.17200,"v":246},{"lo":1.17160,"hi":1.17169,"v":299},{"lo":1.17153,"hi":1.17160,"v":336},{"lo":1.17146,"hi":1.17153,"v":312},{"lo":1.17136,"hi":1.17146,"v":303},{"lo":1.17130,"hi":1.17136,"v":316},{"lo":1.17124,"hi":1.17130,"v":288},{"lo":1.17117,"hi":1.17124,"v":319},{"lo":1.17110,"hi":1.17117,"v":316},{"lo":1.17103,"hi":1.17110,"v":272},{"lo":1.17097,"hi":1.17103,"v":276},{"lo":1.17092,"hi":1.17097,"v":284},{"lo":1.17089,"hi":1.17092,"v":259},{"lo":1.17050,"hi":1.17089,"v":241},{"lo":1.17026,"hi":1.17050,"v":223},{"lo":1.17000,"hi":1.17026,"v":174},{"lo":1.16975,"hi":1.17000,"v":125},{"lo":1.16948,"hi":1.16975,"v":76},{"lo":1.16930,"hi":1.16948,"v":51},{"lo":1.16900,"hi":1.16930,"v":27}
],
"yticks":[
{"p":1.16695},{"p":1.16745},{"p":1.16795},{"p":1.16845},{"p":1.16895},{"p":1.16945},{"p":1.16995},{"p":1.17045},{"p":1.17095},{"p":1.17145},{"p":1.17195},{"p":1.17245},{"p":1.17295},{"p":1.17345},{"p":1.17395},{"p":1.17445},{"p":1.17495},{"p":1.17545},{"p":1.17595},{"p":1.17645},{"p":1.17695},{"p":1.17745},{"p":1.17795},{"p":1.17845},{"p":1.17895},{"p":1.17945}
],
"one":[{"n":1}]
},
"resolve":{"scale":{"x":"independent"},"axis":{"y":"independent"}},
"layer":[
{
 "data":{"values":[{"k":54},{"k":138},{"k":247},{"k":343},{"k":439}]},
 "mark":{"type":"rule","color":"#FFFFFF","strokeDash":[3,2],"strokeWidth":1},
 "encoding":{"x":{"field":"k","type":"quantitative","scale":{"domain":[-0.375,467.375],"nice":false,"zero":false},"axis":null}}
},
{
 "data":{"name":"profile"},
 "transform":[{"calculate":"0","as":"z"}],
 "mark":{"type":"rect","color":"#008080","stroke":"#008080","strokeWidth":0.6},
 "encoding":{
  "x":{"field":"z","type":"quantitative","scale":{"domain":[0,1266],"range":[605.5,1871.5],"nice":false,"zero":false},"axis":null},
  "x2":{"field":"v"},
  "y":{"field":"lo","type":"quantitative","scale":{"domain":[1.166893,1.179745],"nice":false,"zero":false},"axis":null},
  "y2":{"field":"hi"}
 }
},
{
 "layer":[
 {
  "data":{"values":[{"k":151}]},
  "mark":{"type":"rule","color":"#FF0000","strokeWidth":1},
  "encoding":{"x":{"field":"k","type":"quantitative","scale":{"domain":[-0.375,467.375],"nice":false,"zero":false}}}
 },
 {
  "data":{"name":"bars"},
  "transform":[{"calculate":"datum.c > datum.o ? 'up' : (datum.c < datum.o ? 'down' : 'flat')","as":"dir"}],
  "mark":{"type":"rule","strokeWidth":1},
  "encoding":{
   "x":{"field":"k","type":"quantitative","scale":{"domain":[-0.375,467.375],"nice":false,"zero":false},
     "axis":{"title":null,"labelOverlap":false,"values":[0,16,32,48,64,80,96,112,128,160,176,192,208,224,240,256,272,288,304,320,336,352,368,384],
      "labelExpr":"['5 Jul 2018','5 Jul 14:30','5 Jul 18:30','5 Jul 22:30','6 Jul 02:30','6 Jul 06:30','6 Jul 10:30','6 Jul 14:30','6 Jul 18:30','','9 Jul 02:15','9 Jul 06:15','9 Jul 10:15','9 Jul 14:15','9 Jul 18:15','9 Jul 22:15','10 Jul 02:15','10 Jul 06:15','10 Jul 10:15','10 Jul 14:15','10 Jul 18:15','10 Jul 22:15','11 Jul 02:15','11 Jul 06:15','11 Jul 10:15'][round(datum.value/16)]",
      "labelAlign":"left","labelBaseline":"top","labelPadding":4,"tickSize":3}},
   "y":{"field":"l","type":"quantitative","scale":{"domain":[1.166893,1.179745],"nice":false,"zero":false},
     "axis":{"title":null,"orient":"right","labels":false,"ticks":false}},
   "y2":{"field":"h"},
   "color":{"field":"dir","type":"nominal","scale":{"domain":["up","down","flat"],"range":["#1E90FF","#FF4500","#FFFFFF"]},"legend":null}
  }
 },
 {
  "data":{"name":"bars"},
  "transform":[{"calculate":"datum.c > datum.o ? 'up' : (datum.c < datum.o ? 'down' : 'flat')","as":"dir"}],
  "mark":{"type":"bar","size":2,"strokeWidth":1},
  "encoding":{
   "x":{"field":"k","type":"quantitative","scale":{"domain":[-0.375,467.375],"nice":false,"zero":false}},
   "y":{"field":"o","type":"quantitative","scale":{"domain":[1.166893,1.179745],"nice":false,"zero":false}},
   "y2":{"field":"c"},
   "color":{"field":"dir","type":"nominal","scale":{"domain":["up","down","flat"],"range":["#1E90FF","#FF4500","#FFFFFF"]},"legend":null},
   "stroke":{"field":"dir","type":"nominal","scale":{"domain":["up","down","flat"],"range":["#1E90FF","#FF4500","#FFFFFF"]},"legend":null}
  }
 },
 {
  "data":{"name":"vwap"},
  "mark":{"type":"line","color":"#FFFFFF","strokeWidth":2},
  "encoding":{
   "x":{"field":"k","type":"quantitative","scale":{"domain":[-0.375,467.375],"nice":false,"zero":false}},
   "y":{"field":"v","type":"quantitative","scale":{"domain":[1.166893,1.179745],"nice":false,"zero":false}}
  }
 },
 {
  "data":{"name":"poc"},
  "mark":{"type":"line","color":"#FFD700","strokeWidth":2,"interpolate":"step-after"},
  "encoding":{
   "x":{"field":"k","type":"quantitative","scale":{"domain":[-0.375,467.375],"nice":false,"zero":false}},
   "y":{"field":"v","type":"quantitative","scale":{"domain":[1.166893,1.179745],"nice":false,"zero":false}}
  }
 },
 {
  "data":{"name":"yticks"},
  "mark":{"type":"rule","color":"#FFFFFF","strokeWidth":1},
  "encoding":{
   "x":{"datum":467.375,"type":"quantitative"},
   "x2":{"datum":468.1},
   "y":{"field":"p","type":"quantitative","scale":{"domain":[1.166893,1.179745],"nice":false,"zero":false}}
  }
 },
 {
  "data":{"name":"yticks"},
  "mark":{"type":"text","color":"#FFFFFF","font":"Liberation Sans","fontSize":9,"align":"left","baseline":"middle"},
  "encoding":{
   "x":{"datum":468.8,"type":"quantitative"},
   "y":{"field":"p","type":"quantitative","scale":{"domain":[1.166893,1.179745],"nice":false,"zero":false}},
   "text":{"field":"p","type":"quantitative","format":".5f"}
  }
 },
 {
  "data":{"name":"one"},
  "mark":{"type":"text","text":"VWAP","color":"#FFFFFF","font":"Liberation Sans","fontSize":20,"align":"left","baseline":"alphabetic"},
  "encoding":{"x":{"datum":397.4,"type":"quantitative"},"y":{"datum":1.173939,"type":"quantitative"}}
 },
 {
  "data":{"name":"one"},
  "mark":{"type":"text","text":"POC","color":"#FFD700","font":"Liberation Sans","fontSize":20,"align":"left","baseline":"alphabetic"},
  "encoding":{"x":{"datum":397.4,"type":"quantitative"},"y":{"datum":1.173298,"type":"quantitative"}}
 },
 {
  "data":{"name":"one"},
  "mark":{"type":"text","text":"EURUSD,M15\u00a0 1.17339 1.17348 1.17194 1.17225","color":"#FFFFFF","font":"Liberation Sans","fontSize":9,"align":"left","baseline":"alphabetic"},
  "encoding":{"x":{"datum":3.625,"type":"quantitative"},"y":{"datum":1.179574,"type":"quantitative"}}
 },
 {
  "data":{"name":"one"},
  "mark":{"type":"point","shape":"M-1,-0.6L1,-0.6L0,0.6Z","filled":true,"color":"#FFFFFF","size":49,"opacity":1},
  "encoding":{"x":{"datum":1.55,"type":"quantitative"},"y":{"datum":1.179624,"type":"quantitative"}}
 },
 {
  "data":{"name":"one"},
  "mark":{"type":"rect","color":"#FF0000"},
  "encoding":{"x":{"datum":140.9,"type":"quantitative"},"x2":{"datum":160.6},"y":{"datum":1.166821,"type":"quantitative"},"y2":{"datum":1.166607}}
 },
 {
  "data":{"name":"one"},
  "mark":{"type":"text","text":"2018.07.09 00:00","color":"#000000","font":"Liberation Sans","fontSize":9,"align":"center","baseline":"alphabetic"},
  "encoding":{"x":{"datum":150.75,"type":"quantitative"},"y":{"datum":1.166664,"type":"quantitative"}}
 },
 {
  "data":{"name":"one"},
  "mark":{"type":"rect","color":"#FFFFFF"},
  "encoding":{"x":{"datum":467.9,"type":"quantitative"},"x2":{"datum":478.1},"y":{"datum":1.17232,"type":"quantitative"},"y2":{"datum":1.17217}}
 },
 {
  "data":{"name":"one"},
  "mark":{"type":"text","text":"1.17225","color":"#000000","font":"Liberation Sans","fontSize":9,"align":"left","baseline":"alphabetic"},
  "encoding":{"x":{"datum":468.9,"type":"quantitative"},"y":{"datum":1.172192,"type":"quantitative"}}
 }
 ]
}
]
}
